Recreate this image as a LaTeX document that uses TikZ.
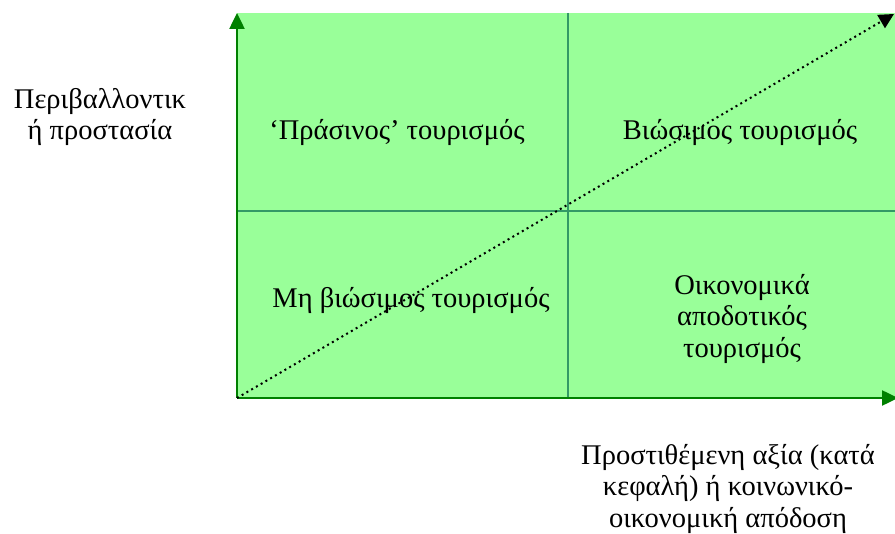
\documentclass[tikz,border=0pt]{standalone}
\usepackage{fontspec}
\setmainfont{Liberation Serif}
\usetikzlibrary{arrows.meta}
\definecolor{quadfill}{HTML}{99FF99}
\definecolor{gridline}{HTML}{339966}
\definecolor{axisgreen}{HTML}{008000}

\begin{document}
\begin{tikzpicture}[
        x=1pt, y=-1pt,
        >=Latex,
        txt/.style={
            align=center,
            inner sep=0pt,
            font=\fontsize{28.5}{31.5}\selectfont
        },
        axis/.style={
            axisgreen,
            line width=2.5pt,
            -{Triangle[width=15pt,length=16pt]}
        },
        divider/.style={gridline, line width=2.5pt}
    ]
        \useasboundingbox (0,0) rectangle (895,534);
        \fill[quadfill] (237,13) rectangle (895,398);

        \coordinate (origin) at (237,398);
        \coordinate (ytop) at (237,13);
        \coordinate (xend) at (898,398);
        \coordinate (corner) at (894,14);
        \coordinate (midtop) at (568,13);
        \coordinate (midbot) at (568,398);
        \coordinate (midleft) at (237,211);
        \coordinate (midright) at (895,211);

        \draw[divider] (midtop) -- (midbot);
        \draw[divider] (midleft) -- (midright);
        \draw[axis] (origin) -- (ytop);
        \draw[axis] (origin) -- (xend);
        \draw[line width=2pt, dash pattern=on 2pt off 3.5pt, -{Triangle[width=15pt,length=15pt]}] (origin) -- (corner);

        % quadrant labels
        \node[txt] (green) at (397,133) {‘Πράσινος’ τουρισμός};
        \node[txt] (sustain) at (740,133) {Βιώσιμος τουρισμός};
        \node[txt] (unsustain) at (411,301) {Μη βιώσιμος τουρισμός};
        \node[txt] (econ) at (742,319) {Οικονομικά\\αποδοτικός\\τουρισμός};

        % axis labels
        \node[txt] (ylabel) at (100,117) {Περιβαλλοντικ\\ή προστασία};
        \node[txt] (xlabel) at (728,489) {Προστιθέμενη αξία (κατά\\κεφαλή) ή κοινωνικό-\\οικονομική απόδοση};
\end{tikzpicture}
\end{document}
